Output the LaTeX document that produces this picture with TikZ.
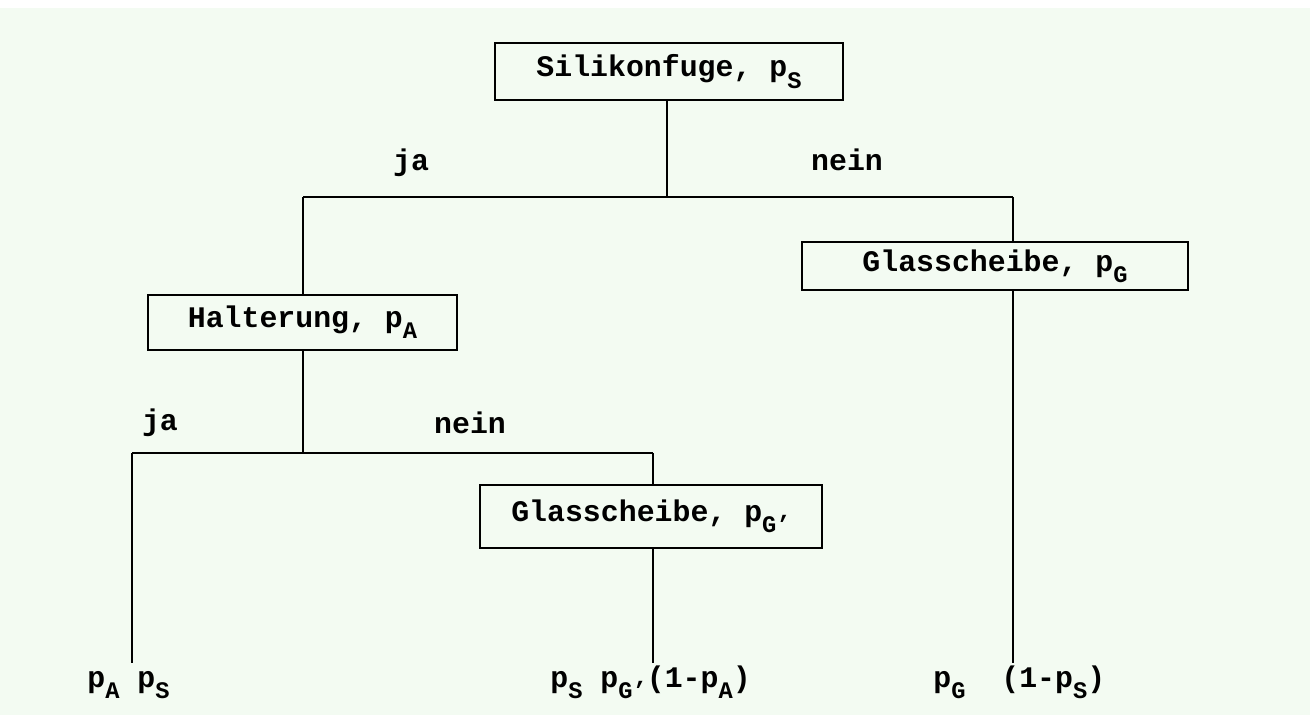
\documentclass[tikz,border=0pt]{standalone}
\usepackage{fontspec}
\setmainfont{Liberation Mono}[BoldFont={* Bold}]
\definecolor{bgpale}{RGB}{243,251,242}
\newcommand{\subx}[1]{\raisebox{-0.38em}{\fontsize{13.5}{14}\selectfont #1}}
\tikzset{
  box/.style={draw=black, line width=1.2pt, inner sep=0pt, font=\bfseries\fontsize{17}{20}\selectfont},
  lbl/.style={inner sep=0pt, font=\bfseries\fontsize{17}{20}\selectfont},
  res/.style={inner sep=0pt, anchor=base west, font=\bfseries\fontsize{17}{20}\selectfont},
  conn/.style={line width=1.2pt, black}
}
\begin{document}
\begin{tikzpicture}[x=0.02cm,y=-0.02cm]
\fill[white] (0,0) rectangle (1310,715);
\fill[bgpale] (0,8) rectangle (1310,715);
\useasboundingbox (0,0) rectangle (1310,715);

\node[box, minimum width=348*0.02cm, minimum height=57*0.02cm] (sil) at (669,71.5) {Silikonfuge, p\subx{S}};
\node[box, minimum width=386*0.02cm, minimum height=48*0.02cm] (glr) at (995,266) {Glasscheibe, p\subx{G}};
\node[box, minimum width=309*0.02cm, minimum height=55*0.02cm] (hal) at (302.5,322.5) {Halterung, p\subx{A}};
\node[box, minimum width=342*0.02cm, minimum height=63*0.02cm] (gll) at (651,516.5) {Glasscheibe, p\subx{G'}};

\coordinate (j1) at (667,197);
\coordinate (j1l) at (303,197);
\coordinate (j1r) at (1013,197);
\coordinate (j2) at (303,453);
\coordinate (j2l) at (132,453);
\coordinate (j2r) at (653,453);
\coordinate (e1) at (132,663);
\coordinate (e2) at (653,663);
\coordinate (e3) at (1013,663);

\draw[conn] (sil.south -| j1) -- (j1);
\draw[conn] (j1l) -- (j1r);
\draw[conn] (j1l) -- (hal.north -| j1l);
\draw[conn] (j1r) -- (glr.north -| j1r);
\draw[conn] (hal.south -| j2) -- (j2);
\draw[conn] (j2l) -- (j2r);
\draw[conn] (j2l) -- (e1);
\draw[conn] (j2r) -- (gll.north -| j2r);
\draw[conn] (gll.south -| e2) -- (e2);
\draw[conn] (glr.south -| e3) -- (e3);

\node[lbl] (ja1) at (411,163) {ja};
\node[lbl] (nein1) at (847,160) {nein};
\node[lbl] (ja2) at (160,423) {ja};
\node[lbl] (nein2) at (470,423) {nein};

\node[res] (r1) at (87,687) {p\subx{A} p\subx{S}};
\node[res] (r2) at (550,687) {p\subx{S} p\subx{G'}(1-p\subx{A})};
\node[res] (r3) at (933,687) {p\subx{G}\ \ (1-p\subx{S})};
\end{tikzpicture}
\end{document}
